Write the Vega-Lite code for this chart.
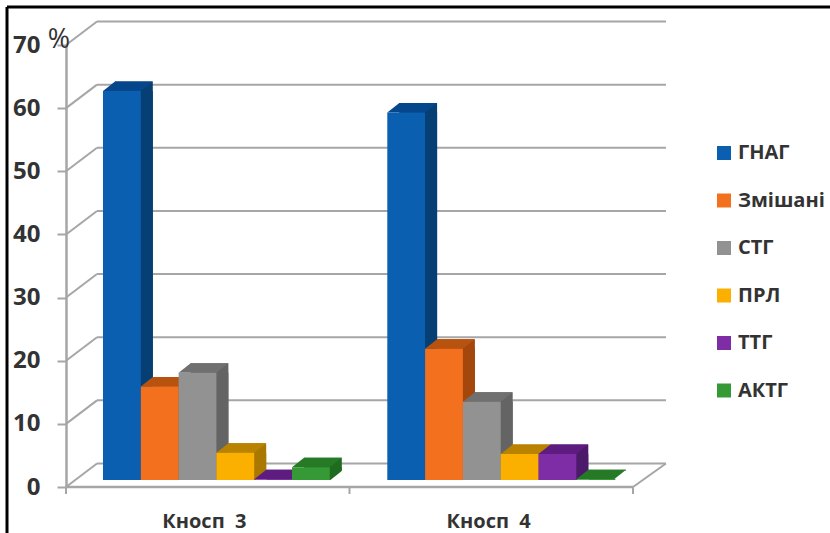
{
  "$schema": "https://vega.github.io/schema/vega-lite/v6.json",
  "width": 567,
  "height": 442,
  "autosize": {"type": "none"},
  "padding": {"left": 66, "top": 45, "right": 197, "bottom": 46},
  "background": "white",
  "config": {"view": {"stroke": null}},
  "datasets": {
    "bars": [
      {"group": "Кносп  3", "series": "ГНАГ", "value": 61.6},
      {"group": "Кносп  3", "series": "Змішані", "value": 14.8},
      {"group": "Кносп  3", "series": "СТГ", "value": 17},
      {"group": "Кносп  3", "series": "ПРЛ", "value": 4.3},
      {"group": "Кносп  3", "series": "ТТГ", "value": 0.1},
      {"group": "Кносп  3", "series": "АКТГ", "value": 2},
      {"group": "Кносп  4", "series": "ГНАГ", "value": 58.2},
      {"group": "Кносп  4", "series": "Змішані", "value": 20.8},
      {"group": "Кносп  4", "series": "СТГ", "value": 12.4},
      {"group": "Кносп  4", "series": "ПРЛ", "value": 4.1},
      {"group": "Кносп  4", "series": "ТТГ", "value": 4.1},
      {"group": "Кносп  4", "series": "АКТГ", "value": 0.1}
    ],
    "levels": [{"level": 0}, {"level": 10}, {"level": 20}, {"level": 30}, {"level": 40}, {"level": 50}, {"level": 60}, {"level": 70}]
  },
  "layer": [
    {
      "description": "Picture frame along the top and left edges",
      "data": {"values": [{"a": 1}]},
      "mark": {"type": "rule", "color": "#000000", "strokeWidth": 3},
      "encoding": {
        "x": {"datum": -59, "scale": {"domain": [0, 567], "nice": false, "zero": false}, "axis": null},
        "x2": {"datum": 764},
        "y": {"datum": 76}
      }
    },
    {
      "data": {"values": [{"a": 1}]},
      "mark": {"type": "rule", "color": "#000000", "strokeWidth": 3},
      "encoding": {
        "x": {"datum": -59, "scale": {"domain": [0, 567], "nice": false, "zero": false}, "axis": null},
        "y": {"datum": 76},
        "y2": {"datum": -7.3}
      }
    },
    {
      "description": "Back wall gridlines",
      "data": {"name": "levels"},
      "mark": {"type": "rule", "color": "#a6a6a6", "strokeWidth": 2, "yOffset": -23.5},
      "encoding": {
        "x": {"datum": 31, "scale": {"domain": [0, 567], "nice": false, "zero": false}, "axis": null},
        "x2": {"datum": 600},
        "y": {"field": "level", "type": "quantitative", "scale": {"domain": [0, 70], "nice": false},
          "axis": {
            "title": null, "values": [0, 10, 20, 30, 40, 50, 60, 70], "grid": false,
            "domainColor": "#a6a6a6", "domainWidth": 2.5, "tickColor": "#a6a6a6", "tickWidth": 2, "tickSize": 9,
            "labelFont": "Open Sans", "labelFontWeight": "bold", "labelFontSize": 24, "labelColor": "#333333", "labelPadding": 17
          }
        }
      }
    },
    {
      "description": "Side wall lines running back from the value axis",
      "data": {"name": "levels"},
      "mark": {"type": "rule", "color": "#a6a6a6", "strokeWidth": 2, "y2Offset": -23.5},
      "encoding": {
        "x": {"datum": 0, "scale": {"domain": [0, 567], "nice": false, "zero": false}, "axis": null},
        "x2": {"datum": 31},
        "y": {"field": "level", "type": "quantitative"},
        "y2": {"field": "level"}
      }
    },
    {
      "description": "Floor: right edge",
      "data": {"values": [{"level": 0}]},
      "mark": {"type": "rule", "color": "#a6a6a6", "strokeWidth": 2, "y2Offset": -23.5},
      "encoding": {
        "x": {"datum": 567, "scale": {"domain": [0, 567], "nice": false, "zero": false}, "axis": null},
        "x2": {"datum": 600},
        "y": {"field": "level", "type": "quantitative"},
        "y2": {"field": "level"}
      }
    },
    {
      "description": "Floor: front edge",
      "data": {"values": [{"level": 0}]},
      "mark": {"type": "rule", "color": "#a6a6a6", "strokeWidth": 2.5},
      "encoding": {
        "x": {"datum": 0, "scale": {"domain": [0, 567], "nice": false, "zero": false}, "axis": null},
        "x2": {"datum": 567},
        "y": {"field": "level", "type": "quantitative"}
      }
    },
    {
      "description": "Category separators below the floor",
      "data": {"values": [{"pos": 0}, {"pos": 283.5}, {"pos": 567}]},
      "mark": {"type": "rule", "color": "#a6a6a6", "strokeWidth": 2, "y2Offset": 7},
      "encoding": {
        "x": {"field": "pos", "type": "quantitative", "scale": {"domain": [0, 567], "nice": false, "zero": false}, "axis": null},
        "y": {"datum": 0},
        "y2": {"datum": 0}
      }
    },
    {
      "description": "Percent sign beside the top of the value axis",
      "data": {"values": [{"sign": "%"}]},
      "mark": {"type": "text", "font": "Open Sans", "fontSize": 27, "color": "#333333", "dx": -7, "dy": -5},
      "encoding": {
        "x": {"datum": 0, "scale": {"domain": [0, 567], "nice": false, "zero": false}, "axis": null},
        "y": {"datum": 70},
        "text": {"field": "sign"}
      }
    },
    {
      "description": "Bar side faces, upper part",
      "data": {"name": "bars"},
      "mark": {"type": "bar", "yOffset": -16.5, "y2Offset": -16.5},
      "encoding": {
        "x": {"field": "group", "type": "nominal", "axis": null, "scale": {"paddingInner": 0.2022, "paddingOuter": 0.0983, "align": 0.662}},
        "xOffset": {"field": "series", "type": "nominal", "scale": {"domain": ["ГНАГ", "Змішані", "СТГ", "ПРЛ", "ТТГ", "АКТГ"], "range": [12, 238.8]}},
        "y": {"field": "value", "type": "quantitative", "stack": null},
        "y2": {"datum": 0},
        "color": {"field": "series", "type": "nominal", "legend": null, "scale": {"domain": ["ГНАГ", "Змішані", "СТГ", "ПРЛ", "ТТГ", "АКТГ"], "range": ["#053f74", "#a3470c", "#646464", "#a97800", "#4b1a6b", "#1f6b1f"]}}
      }
    },
    {
      "description": "Bar side faces, lower part",
      "data": {"name": "bars"},
      "mark": {"type": "bar", "yOffset": -7, "y2Offset": -7},
      "encoding": {
        "x": {"field": "group", "type": "nominal", "axis": null, "scale": {"paddingInner": 0.2022, "paddingOuter": 0.0983, "align": 0.662}},
        "xOffset": {"field": "series", "type": "nominal", "scale": {"domain": ["ГНАГ", "Змішані", "СТГ", "ПРЛ", "ТТГ", "АКТГ"], "range": [12, 238.8]}},
        "y": {"field": "value", "type": "quantitative", "stack": null},
        "y2": {"datum": 0},
        "color": {"field": "series", "type": "nominal", "legend": null, "scale": {"domain": ["ГНАГ", "Змішані", "СТГ", "ПРЛ", "ТТГ", "АКТГ"], "range": ["#053f74", "#a3470c", "#646464", "#a97800", "#4b1a6b", "#1f6b1f"]}}
      }
    },
    {
      "description": "Trims the square foot of each side face to a slant",
      "data": {"name": "bars"},
      "mark": {"type": "point", "filled": true, "opacity": 1, "color": "white", "size": 4, "yOffset": -7, "shape": "M18.9,0.5 L31.5,0.5 L31.5,-9.5 Z"},
      "encoding": {
        "x": {"field": "group", "type": "nominal", "axis": null, "scale": {"paddingInner": 0.2022, "paddingOuter": 0.0983, "align": 0.662}},
        "xOffset": {"field": "series", "type": "nominal", "scale": {"domain": ["ГНАГ", "Змішані", "СТГ", "ПРЛ", "ТТГ", "АКТГ"]}},
        "y": {"datum": 0}
      }
    },
    {
      "description": "Bar top faces",
      "data": {"name": "bars"},
      "mark": {"type": "point", "filled": true, "opacity": 1, "size": 4, "yOffset": -7, "shape": "M-18.9,0 L18.9,0 L30.9,-9.5 L-6.9,-9.5 Z"},
      "encoding": {
        "x": {"field": "group", "type": "nominal", "axis": null, "scale": {"paddingInner": 0.2022, "paddingOuter": 0.0983, "align": 0.662}},
        "xOffset": {"field": "series", "type": "nominal", "scale": {"domain": ["ГНАГ", "Змішані", "СТГ", "ПРЛ", "ТТГ", "АКТГ"]}},
        "y": {"field": "value", "type": "quantitative"},
        "color": {"field": "series", "type": "nominal", "legend": null, "scale": {"domain": ["ГНАГ", "Змішані", "СТГ", "ПРЛ", "ТТГ", "АКТГ"], "range": ["#06478c", "#b8520f", "#707070", "#b98300", "#5e1c80", "#267a26"]}}
      }
    },
    {
      "description": "Bar front faces with the legend and category labels",
      "data": {"name": "bars"},
      "mark": {"type": "bar", "yOffset": -7, "y2Offset": -7},
      "encoding": {
        "x": {"field": "group", "type": "nominal", "scale": {"paddingInner": 0.2022, "paddingOuter": 0.0983, "align": 0.662},
          "axis": {
            "title": null, "domain": false, "ticks": false, "labelAngle": 0, "labelOffset": -12, "labelPadding": 24,
            "labelExpr": "replace(datum.label, '  ', '\u00a0\u00a0')",
            "labelFont": "Open Sans", "labelFontWeight": "bold", "labelFontSize": 20, "labelColor": "#333333"
          }
        },
        "xOffset": {"field": "series", "type": "nominal", "scale": {"domain": ["ГНАГ", "Змішані", "СТГ", "ПРЛ", "ТТГ", "АКТГ"]}},
        "y": {"field": "value", "type": "quantitative", "stack": null},
        "y2": {"datum": 0},
        "color": {"field": "series", "type": "nominal",
          "scale": {"domain": ["ГНАГ", "Змішані", "СТГ", "ПРЛ", "ТТГ", "АКТГ"], "range": ["#0a5fb0", "#f3701e", "#929292", "#fbb000", "#7f2da6", "#359a35"]},
          "legend": {
            "title": null, "orient": "none", "legendX": 648, "legendY": 98, "symbolType": "square", "symbolSize": 196, "symbolStrokeWidth": 0,
            "rowPadding": 27.5, "labelOffset": 4, "labelLimit": 200,
            "labelFont": "Open Sans", "labelFontWeight": "bold", "labelFontSize": 20, "labelColor": "#333333"
          }
        }
      }
    }
  ],
  "resolve": {"scale": {"x": "independent", "xOffset": "independent", "color": "independent"}, "axis": {"x": "independent"}}
}
